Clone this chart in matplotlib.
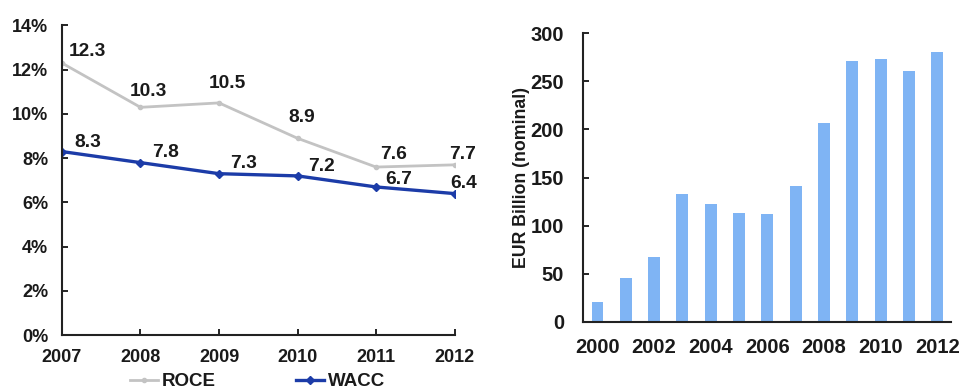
import matplotlib.pyplot as plt
from matplotlib.ticker import FuncFormatter

plt.rcParams['font.family'] = ['Liberation Sans', 'DejaVu Sans']
plt.rcParams['font.weight'] = 'bold'

# left chart: ROCE vs WACC (%)
years = [2007, 2008, 2009, 2010, 2011, 2012]
roce = [12.3, 10.3, 10.5, 8.9, 7.6, 7.7]
wacc = [8.3, 7.8, 7.3, 7.2, 6.7, 6.4]

# right chart: EUR billion (nominal)
bar_years = list(range(2000, 2013))
invest = [21, 46, 67, 133, 123, 113, 112, 141, 207, 271, 273, 261, 281]

# label offsets in pixels (dx, dy)
roce_off = [(25, 12), (8, 16), (8, 19), (4, 21), (18, 13), (8, 10)]
wacc_off = [(26, 9), (25, 10), (25, 10), (24, 9), (23, 7), (9, 10)]

fig = plt.figure(figsize=(9.61, 3.92), dpi=100)
txt = '#1a1a1a'

ax1 = fig.add_axes([0.0645, 0.145, 0.4085, 0.79])
ax1.plot(years, roce, color='#c3c3c3', lw=2, marker='o', ms=3, label='ROCE')
ax1.plot(years, wacc, color='#1c3ca8', lw=2.4, marker='D', ms=4.5, label='WACC')
for x, v, (dx, dy) in zip(years, roce, roce_off):
    ax1.annotate(f'{v:.1f}', (x, v), xytext=(dx, dy), textcoords='offset pixels',
                 ha='center', va='center', fontsize=13.8, color=txt)
for x, v, (dx, dy) in zip(years, wacc, wacc_off):
    ax1.annotate(f'{v:.1f}', (x, v), xytext=(dx, dy), textcoords='offset pixels',
                 ha='center', va='center', fontsize=13.8, color=txt)
ax1.set_xlim(2007, 2012)
ax1.set_ylim(0, 14)
ax1.set_xticks(years)
ax1.set_yticks(range(0, 15, 2))
ax1.yaxis.set_major_formatter(FuncFormatter(lambda v, p: f'{v:.0f}%'))
ax1.tick_params(direction='in', length=4, labelsize=13, labelcolor=txt, width=1.2)
ax1.tick_params(axis='x', pad=10)
ax1.tick_params(axis='y', pad=10)
for s in ['top', 'right']:
    ax1.spines[s].set_visible(False)
for s in ['left', 'bottom']:
    ax1.spines[s].set_linewidth(1.5)
    ax1.spines[s].set_color('#222222')
for lab in ax1.get_xticklabels() + ax1.get_yticklabels():
    lab.set_fontweight('bold')

fig.legend(loc='center', bbox_to_anchor=(0.268, 0.026), ncol=2, frameon=False,
           fontsize=13.5, handlelength=1.5, columnspacing=4.3, handletextpad=0.2,
           labelcolor=txt)

ax2 = fig.add_axes([0.607, 0.179, 0.383, 0.736])
ax2.bar(bar_years, invest, width=0.42, color='#7fb4f4')
ax2.set_xlim(1999.5, 2012.5)
ax2.set_ylim(0, 300)
ax2.set_xticks(range(2000, 2013, 2))
ax2.set_yticks(range(0, 301, 50))
ax2.set_ylabel('EUR Billion (nominal)', fontsize=12.8, fontweight='bold', color=txt, labelpad=0)
ax2.tick_params(direction='in', length=4, labelsize=14.5, labelcolor=txt, width=1.2)
ax2.tick_params(axis='x', length=0, pad=12)
ax2.tick_params(axis='y', pad=14)
for s in ['top', 'right']:
    ax2.spines[s].set_visible(False)
for s in ['left', 'bottom']:
    ax2.spines[s].set_linewidth(1.5)
    ax2.spines[s].set_color('#222222')
for lab in ax2.get_xticklabels() + ax2.get_yticklabels():
    lab.set_fontweight('bold')

fig.savefig('out.png', dpi=100)
